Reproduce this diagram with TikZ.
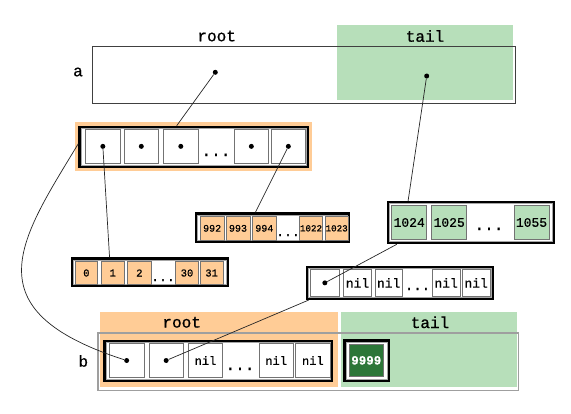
\documentclass[tikz,border=0pt]{standalone}
\usepackage{fontspec}
\setmonofont[FakeBold=0.8]{Liberation Mono}
\usetikzlibrary{calc}
\definecolor{peach}{RGB}{255,204,150}
\definecolor{lgreen}{RGB}{183,223,186}
\definecolor{dgreen}{RGB}{44,118,56}
\definecolor{cellline}{RGB}{115,115,115}
\newcommand{\mono}[1]{\fontsize{#1}{#1}\selectfont\ttfamily}
\tikzset{
  cell/.style 2 args={draw=cellline, line width=0.8pt, inner sep=0pt, minimum width=#1pt, minimum height=#2pt},
  cont/.style 2 args={draw=black, line width=2.4pt, inner sep=0pt, minimum width=#1pt, minimum height=#2pt},
  innerline/.style={draw=gray!70, line width=0.6pt},
  lbl/.style={font=\mono{16}, inner sep=0pt},
  ptdot/.style={circle, fill=black, inner sep=0pt, minimum size=5pt},
  ellip/.style={anchor=base, inner sep=0pt, font=\mono{16}},
  conn/.style={draw=black!85, line width=0.7pt},
}
\begin{document}
\begin{tikzpicture}[x=1pt,y=-1pt]
\useasboundingbox (0,0) rectangle (571,413);
% ---------- record a ----------
\fill[lgreen] (336.7,25) rectangle (512.7,100);
\node[draw=black!75, line width=0.8pt, inner sep=0pt, minimum width=423pt, minimum height=57pt] (abox) at (304,74.7) {};
\node[lbl] (arootl) at (216.7,36) {root};
\node[lbl] (ataill) at (425,36) {tail};
\node[lbl] (aname) at (78,72) {a};
\node[ptdot] (ad1) at (215.3,72.3) {};
\node[ptdot] (ad2) at (426.7,76) {};
% ---------- internal array ----------
\fill[peach] (75,122.3) rectangle (312.3,171);
\node[cont={228.6}{39.6}, fill=white] (arr) at (193.8,146.7) {};
\draw[innerline] ($(arr.south west)+(2.6,-2.6)$) rectangle ($(arr.north east)+(-2.6,2.6)$);
\node[cell={34.3}{34.7}] (ac1) at (102.85,146.35) {};
\node[cell={34}{34.7}] (ac2) at (141.3,146.35) {};
\node[cell={35}{34.7}] (ac3) at (180.8,146.35) {};
\node[ellip] (acd) at (216,156) {...};
\node[cell={34.7}{34.7}] (ac5) at (251.35,146.35) {};
\node[cell={34.7}{34.7}] (ac6) at (288.35,146.35) {};
\node[ptdot] (p1) at (ac1.center) {};
\node[ptdot] (p2) at (ac2.center) {};
\node[ptdot] (p3) at (ac3.center) {};
\node[ptdot] (p5) at (ac5.center) {};
\node[ptdot] (p6) at (ac6.center) {};
% ---------- leaf 0..31 ----------
\node[cont={156.2}{27.6}, fill=white] (leafa) at (150,272.3) {};
\draw[innerline] ($(leafa.south west)+(2.6,-2.6)$) rectangle ($(leafa.north east)+(-2.6,2.6)$);
\begin{scope}[every node/.append style={font=\mono{10.5}, fill=peach}]
\node[cell={22.7}{22.6}] (la1) at (86.35,273) {0};
\node[cell={23.3}{22.6}] (la2) at (112.65,273) {1};
\node[cell={23.3}{22.6}] (la3) at (139.35,273) {2};
\node[cell={22.6}{22.6}] (la5) at (187,273) {30};
\node[cell={23.3}{22.6}] (la6) at (211.65,273) {31};
\end{scope}
\node[ellip, font=\mono{13}] (lad) at (163,281) {...};
% ---------- leaf 992..1023 ----------
\node[cont={152.6}{28.6}, fill=white] (leafb) at (272.5,227.8) {};
\draw[innerline] ($(leafb.south west)+(2.6,-2.6)$) rectangle ($(leafb.north east)+(-2.6,2.6)$);
\begin{scope}[every node/.append style={font=\mono{10}, fill=peach}]
\node[cell={24.3}{23.3}] (lb1) at (212.15,228.35) {992};
\node[cell={24}{23.3}] (lb2) at (238,228.35) {993};
\node[cell={23.3}{23.3}] (lb3) at (264.35,228.35) {994};
\node[cell={23.4}{23.3}, font=\mono{9.2}] (lb5) at (311,228.35) {1022};
\node[cell={23.3}{23.3}, font=\mono{9.2}] (lb6) at (336.65,228.35) {1023};
\end{scope}
\node[ellip, font=\mono{13}] (lbd) at (288,236) {...};
% ---------- tail leaf 1024..1055 ----------
\node[cont={165.9}{40.9}, fill=white] (gleaf) at (470.85,222.65) {};
\draw[innerline] ($(gleaf.south west)+(2.6,-2.6)$) rectangle ($(gleaf.north east)+(-2.6,2.6)$);
\begin{scope}[every node/.append style={font=\mono{13}, fill=lgreen}]
\node[cell={35}{33.6}] (g1) at (409.2,222.5) {1024};
\node[cell={35}{33.6}] (g2) at (449.2,222.5) {1025};
\node[cell={35}{33.6}] (g3) at (531.5,222.5) {1055};
\end{scope}
\node[ellip] (gd) at (489,230) {...};
% ---------- nil node ----------
\node[cont={185.9}{32}, fill=white] (nilb) at (399.85,282.85) {};
\draw[innerline] ($(nilb.south west)+(2.6,-2.6)$) rectangle ($(nilb.north east)+(-2.6,2.6)$);
\begin{scope}[every node/.append style={font=\mono{13}}]
\node[cell={28.3}{27.7}] (n1) at (324.85,282.85) {};
\node[cell={28.4}{27.7}] (n2) at (357.5,282.85) {nil};
\node[cell={27.3}{27.7}] (n3) at (388.65,282.85) {nil};
\node[cell={27.7}{27.7}] (n5) at (446.15,282.85) {nil};
\node[cell={27.7}{27.7}] (n6) at (476.15,282.85) {nil};
\end{scope}
\node[ellip, font=\mono{14}] (nd) at (417.5,290) {...};
\node[ptdot] (np1) at (n1.center) {};
% ---------- record b ----------
\fill[peach] (100,311.7) rectangle (338.3,386.7);
\fill[lgreen] (340.7,311.7) rectangle (516.7,386.7);
\node[draw=gray!75, line width=1.3pt, inner sep=0pt, minimum width=420.5pt, minimum height=57.5pt] (bbox) at (308.35,361.65) {};
\node[lbl] (brootl) at (181.7,322.3) {root};
\node[lbl] (btaill) at (430,322.3) {tail};
\node[lbl] (bname) at (83.3,361) {b};
\node[cont={227.6}{39.3}, fill=white] (broot) at (218.3,360.85) {};
\draw[innerline] ($(broot.south west)+(2.6,-2.6)$) rectangle ($(broot.north east)+(-2.6,2.6)$);
\begin{scope}[every node/.append style={font=\mono{12}}]
\node[cell={34.7}{34.4}] (b1) at (126.65,360.5) {};
\node[cell={34.3}{34.4}] (b2) at (166.15,360.5) {};
\node[cell={34.4}{34.4}] (b3) at (205.5,360.5) {nil};
\node[cell={34.3}{34.4}] (b5) at (276.15,360.5) {nil};
\node[cell={34.3}{34.4}] (b6) at (312.85,360.5) {nil};
\end{scope}
\node[ellip] (bd) at (240,370) {...};
\node[ptdot] (bp1) at (b1.center) {};
\node[ptdot] (bp2) at (b2.center) {};
\node[cont={44.3}{40.6}, fill=white] (btail) at (366.65,360.8) {};
\draw[innerline] ($(btail.south west)+(2.6,-2.6)$) rectangle ($(btail.north east)+(-2.6,2.6)$);
\node[cell={34}{32.7}, fill=dgreen, text=white, font=\mono{12.5}\bfseries] (bt1) at (366.3,360.35) {9999};
% ---------- connectors ----------
\draw[conn] (ad1) -- ($(arr.north west)!0.426!(arr.north east)$);
\draw[conn] (ad2) -- ($(gleaf.north west)!0.127!(gleaf.north east)$);
\draw[conn] (p1) -- ($(leafa.north west)!0.245!(leafa.north east)$);
\draw[conn] (p6) -- ($(leafb.north west)!0.39!(leafb.north east)$);
\draw[conn] ($(arr.west)+(0,-3)$) .. controls (20,240) and (-30,310) .. (bp1);
\draw[conn] (np1) -- ($(gleaf.south west)!0.06!(gleaf.south east)$);
\draw[conn] (bp2) -- ($(nilb.south west)+(3,0)$);
\end{tikzpicture}
\end{document}
